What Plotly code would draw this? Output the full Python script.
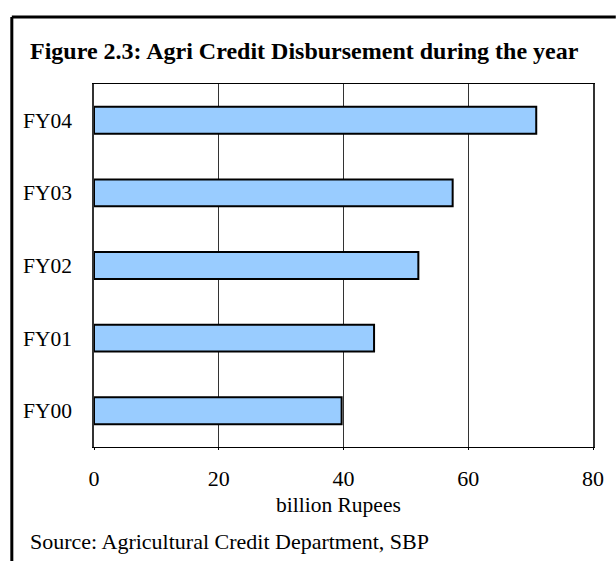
import plotly.graph_objects as go

# Agricultural credit disbursed each fiscal year (billion Rupees)
years = ["FY00", "FY01", "FY02", "FY03", "FY04"]
disbursement = [39.7, 44.9, 52.0, 57.5, 70.9]
x_ticks = [0, 20, 40, 60, 80]

title_text = "Figure 2.3: Agri Credit Disbursement during the year"
axis_label = "billion Rupees"
source_text = "Source: Agricultural Credit Department, SBP"

SERIF = "Liberation Serif, Times New Roman, serif"

W, H = 616, 561
L, R, T, B = 94, 18, 84, 114
PW, PH = W - L - R, H - T - B


def px_to_paper_x(px):
    return (px - L) / PW


def px_to_paper_y(py):
    return (H - B - py) / PH


fig = go.Figure(
    go.Bar(
        x=disbursement,
        y=years,
        orientation="h",
        marker=dict(color="#99CCFF", line=dict(color="black", width=2)),
        width=0.37,
        hoverinfo="x+y",
    )
)

fig.update_layout(
    width=W,
    height=H,
    margin=dict(l=L, r=R, t=T, b=B, pad=0),
    paper_bgcolor="white",
    plot_bgcolor="white",
    showlegend=False,
    font=dict(family=SERIF, color="black", size=21),
)

fig.update_xaxes(
    range=[0, 80],
    tickvals=x_ticks,
    ticktext=[str(v) for v in x_ticks],
    showgrid=True,
    gridcolor="#333333",
    gridwidth=1,
    zeroline=False,
    showline=True,
    linecolor="black",
    linewidth=1,
    mirror=True,
    ticks="outside",
    ticklen=2,
    tickcolor="black",
    ticklabelstandoff=10,
    tickfont=dict(family=SERIF, size=22),
)

fig.update_yaxes(
    categoryorder="array",
    categoryarray=years,
    showgrid=False,
    zeroline=False,
    showline=True,
    linecolor="#333333",
    linewidth=1.5,
    mirror=True,
    ticks="",
    ticklabelstandoff=16,
    tickfont=dict(family=SERIF, size=21.5),
)

annotations = [
    dict(
        text="<b>" + title_text + "</b>",
        xref="paper", yref="paper",
        x=px_to_paper_x(27), y=px_to_paper_y(51),
        xanchor="left", yanchor="middle",
        showarrow=False,
        font=dict(family=SERIF, size=24, color="black"),
    ),
    dict(
        text=axis_label,
        xref="paper", yref="paper",
        x=px_to_paper_x(341), y=px_to_paper_y(505),
        xanchor="center", yanchor="middle",
        showarrow=False,
        font=dict(family=SERIF, size=21.5, color="black"),
    ),
    dict(
        text=source_text,
        xref="paper", yref="paper",
        x=px_to_paper_x(27), y=px_to_paper_y(541),
        xanchor="left", yanchor="middle",
        showarrow=False,
        font=dict(family=SERIF, size=22, color="black"),
    ),
]
fig.update_layout(annotations=annotations)

# Outer frame: heavy rule along the top and down the left side
frame_y_top = px_to_paper_y(17)
frame_x_left = px_to_paper_x(11)
fig.update_layout(
    shapes=[
        dict(type="line", xref="paper", yref="paper",
             x0=frame_x_left, x1=px_to_paper_x(W + 5),
             y0=frame_y_top, y1=frame_y_top,
             line=dict(color="black", width=3)),
        dict(type="line", xref="paper", yref="paper",
             x0=frame_x_left, x1=frame_x_left,
             y0=frame_y_top, y1=px_to_paper_y(H + 5),
             line=dict(color="black", width=3)),
    ]
)

fig.write_html("out.html")
